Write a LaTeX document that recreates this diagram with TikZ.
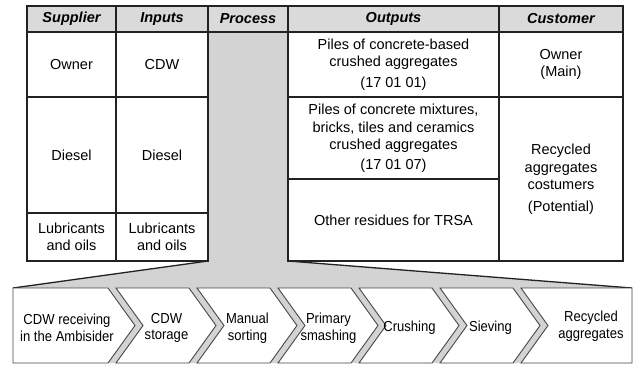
\documentclass[tikz,border=0pt]{standalone}
\usepackage{fontspec}
\setmainfont{Liberation Sans}
\newfontfamily\narrowsans[FakeStretch=0.9]{Liberation Sans}
\usetikzlibrary{positioning,backgrounds}
\definecolor{headgray}{HTML}{DADADA}
\definecolor{procgray}{HTML}{D3D3D3}
\definecolor{linegray}{HTML}{222222}
\definecolor{chevline}{HTML}{474747}

\begin{document}
\begin{tikzpicture}[
    x=1pt, y=-1pt,
    node distance=0pt,
    cell/.style={draw=linegray, line width=1.3pt, outer sep=0pt, inner sep=0pt, align=center, font=\fontsize{14.5}{17.5}\selectfont},
    head/.style={cell, fill=headgray, minimum height=26pt, font=\fontsize{14.5}{17.5}\selectfont\bfseries\itshape},
    chev/.style={draw=chevline, line width=0.9pt, fill=white, line join=miter},
    chevtext/.style={align=center, font=\narrowsans\fontsize{14.5}{16.5}\selectfont}
]
\useasboundingbox (0,0) rectangle (636,365);

% header row
\node[head, minimum width=89pt] (hsup) at (71.5,19) {Supplier};
\node[head, minimum width=92pt, right=of hsup] (hin) {Inputs};
\node[head, minimum width=80pt, right=of hin] (hproc) {Process};
\node[head, minimum width=211pt, right=of hproc] (hout) {Outputs};
\node[head, minimum width=124pt, right=of hout] (hcus) {Customer};

% supplier and inputs
\node[cell, minimum width=89pt, minimum height=65pt, below=of hsup] (sup1) {Owner};
\node[cell, minimum width=89pt, minimum height=116pt, below=of sup1] (sup2) {Diesel};
\node[cell, minimum width=89pt, minimum height=48pt, below=of sup2] (sup3) {Lubricants\\and oils};
\node[cell, minimum width=92pt, minimum height=65pt, below=of hin] (in1) {CDW};
\node[cell, minimum width=92pt, minimum height=116pt, below=of in1] (in2) {Diesel};
\node[cell, minimum width=92pt, minimum height=48pt, below=of in2] (in3) {Lubricants\\and oils};

% process column (filled below)
\node[minimum width=80pt, minimum height=229pt, outer sep=0pt, below=of hproc] (proc) {};

% outputs and customers
\node[cell, minimum width=211pt, minimum height=65pt, below=of hout] (out1) {Piles of concrete-based\\crushed aggregates\\[3pt](17 01 01)};
\node[cell, minimum width=211pt, minimum height=82pt, below=of out1] (out2) {Piles of concrete mixtures,\\bricks, tiles and ceramics\\crushed aggregates\\[2pt](17 01 07)};
\node[cell, minimum width=211pt, minimum height=82pt, below=of out2] (out3) {Other residues for TRSA};
\node[cell, minimum width=124pt, minimum height=65pt, below=of hcus] (cus1) {Owner\\(Main)};
\node[cell, minimum width=124pt, minimum height=164pt, below=of cus1] (cus2) {Recycled\\aggregates\\costumers\\[4pt](Potential)};

% funnel into the process chain
\coordinate (fl) at (13,288);
\coordinate (fr) at (632,288);
\coordinate (bl) at (13,363);
\coordinate (br) at (632,363);
\begin{scope}[on background layer]
\fill[procgray] (proc.north west) -- (proc.north east) -- (proc.south east) -- (fr) -- (br) -- (bl) -- (fl) -- (proc.south west) -- cycle;
\draw[linegray, line width=1.3pt] (proc.north west) -- (proc.south west) -- (fl);
\draw[linegray, line width=1.3pt] (proc.north east) -- (proc.south east) -- (fr);
\end{scope}

% process steps
\draw[chev] (fl) -- (108,288) -- (135,325.5) -- (108,363) -- (bl) -- cycle;
\node[chevtext] (c1) at (67,328) {CDW receiving\\in the Ambisider};
\foreach \n/\a/\txt in {2/116/{CDW\\storage}, 3/197/{Manual\\sorting}, 4/278/{Primary\\smashing}, 5/359/{Crushing}, 6/440/{Sieving}}
{
  \pgfmathsetmacro\b{\a+73}
  \draw[chev] (\a,288) -- (\b,288) -- (\b+27,325.5) -- (\b,363) -- (\a,363) -- (\a+27,325.5) -- cycle;
  \node[chevtext] (c\n) at (\a/2+\b/2+14,328) {\txt};
}
\draw[chev] (521,288) -- (fr) -- (br) -- (521,363) -- (548,325.5) -- cycle;
\node[chevtext] (c7) at (591,326) {Recycled\\aggregates};
\end{tikzpicture}
\end{document}
